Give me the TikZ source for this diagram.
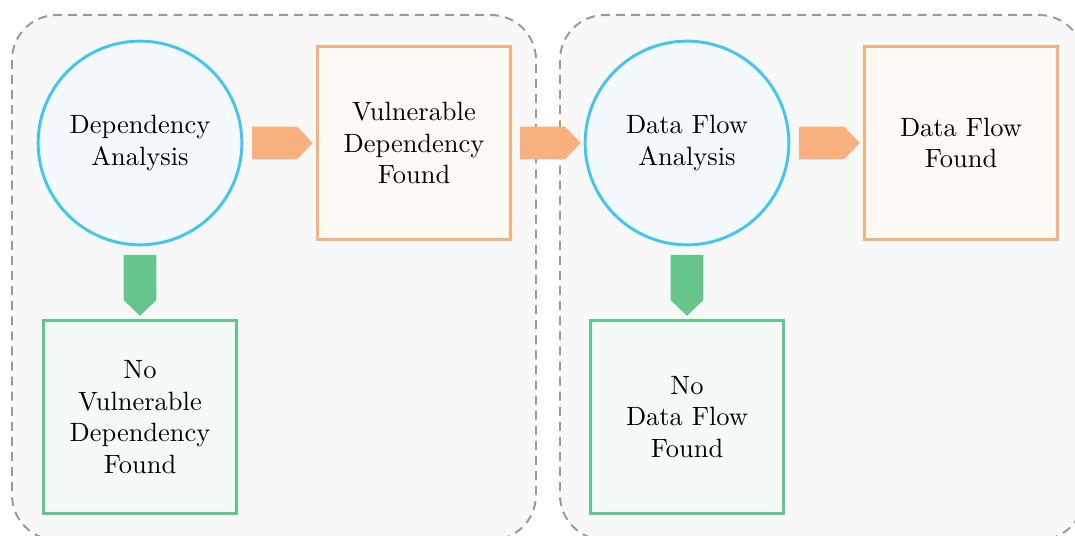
\documentclass[tikz,border=0pt]{standalone}
\usetikzlibrary{shapes.arrows}
\definecolor{grpfill}{HTML}{F8F8F8}
\definecolor{grpline}{HTML}{9A9A9A}
\definecolor{cyanline}{HTML}{41C5F2}
\definecolor{cyanfill}{HTML}{F3F9FD}
\definecolor{orline}{HTML}{F8B07E}
\definecolor{orfill}{HTML}{FDF9F5}
\definecolor{orarrow}{HTML}{F8B07E}
\definecolor{grline}{HTML}{66C58C}
\definecolor{grfill}{HTML}{F4FAF6}
\definecolor{grarrow}{HTML}{66C58C}
\tikzset{
  group/.style={draw=grpline, fill=grpfill, line width=0.75pt, dash pattern=on 3.4pt off 2.3pt, rounded corners=17pt},
  analysis/.style={circle, draw=cyanline, fill=cyanfill, line width=1.1pt, minimum size=77pt, inner sep=0pt, align=center},
  found/.style={rectangle, draw=orline, fill=orfill, line width=1.1pt, minimum size=73pt, inner sep=0pt, align=center},
  notfound/.style={rectangle, draw=grline, fill=grfill, line width=1.1pt, minimum size=73pt, inner sep=0pt, align=center},
  flowarrow/.style={single arrow, single arrow head extend=0pt, single arrow tip angle=92, minimum height=23pt, minimum width=12.3pt, inner sep=0pt, outer sep=0pt, draw=none, fill=#1, anchor=tail},
}
\begin{document}
\begin{tikzpicture}[x=0.378pt, y=-0.378pt]
  \useasboundingbox (0,0) rectangle (1075,536);
  \begin{scope}
    \clip (0,0) rectangle (1075,536);
    \draw[group] (12,15) rectangle (536,540);
    \draw[group] (560,15) rectangle (1084,540);
  \end{scope}

  % dependency stage
  \node[analysis] (dep) at (140,143) {Dependency\\Analysis};
  \node[found] (vuln) at (414,143) {Vulnerable\\Dependency\\Found};
  \node[notfound] (novuln) at (140,417) {No\\Vulnerable\\Dependency\\Found};

  % data flow stage
  \node[analysis] (flow) at (687,143) {Data Flow\\Analysis};
  \node[found] (flowfound) at (961,143) {Data Flow\\Found};
  \node[notfound] (noflow) at (687,417) {No\\Data Flow\\Found};

  % arrows between the stages, placed by their tails
  \node[flowarrow=orarrow] (a1) at (252,143) {};
  \node[flowarrow=orarrow] (a2) at (520,143) {};
  \node[flowarrow=orarrow] (a3) at (799,143) {};
  \node[flowarrow=grarrow, shape border rotate=270] (a4) at (140,255) {};
  \node[flowarrow=grarrow, shape border rotate=270] (a5) at (687,255) {};
\end{tikzpicture}
\end{document}
